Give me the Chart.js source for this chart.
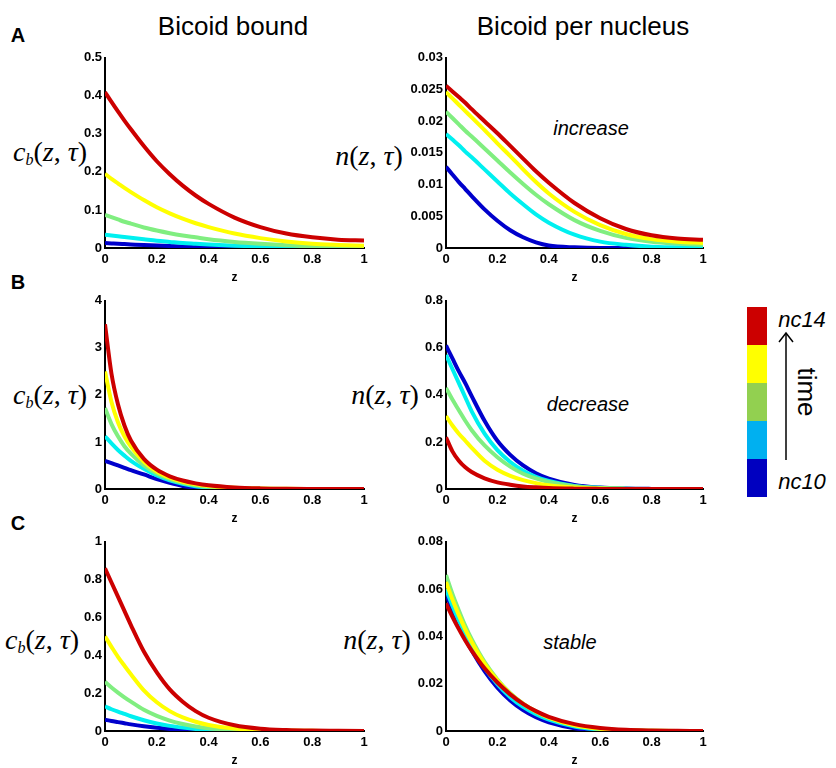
<!DOCTYPE html>
<html>
<head>
<meta charset="utf-8">
<script src="https://cdn.jsdelivr.net/npm/chart.js@4.4.1/dist/chart.umd.min.js"></script>
<style>
  html, body { margin: 0; padding: 0; background: #fff; }
  #fig { position: relative; width: 836px; height: 768px; overflow: hidden; font-family: "Liberation Sans", Arial, sans-serif; }
  #fig canvas { position: absolute; }
  .lbl { position: absolute; transform: translate(-50%, -50%); white-space: nowrap; color: #000; }
  .panel { font-weight: bold; font-size: 20px; }
  .title { font-size: 26px; }
  .math { font-family: "Liberation Serif", "DejaVu Serif", serif; font-size: 28px; }
  .math sub { font-size: 16px; vertical-align: -4px; }
  .note { font-style: italic; font-size: 20px; }
  .bar { position: absolute; left: 747px; width: 20px; height: 38px; }
</style>
</head>
<body>
<div id="fig">
  <div class="lbl panel" style="left:18px; top:35px">A</div>
  <div class="lbl panel" style="left:18px; top:282px">B</div>
  <div class="lbl panel" style="left:18px; top:523px">C</div>
  <div class="lbl title" style="left:233px; top:26px">Bicoid bound</div>
  <div class="lbl title" style="left:583px; top:26px">Bicoid per nucleus</div>

  <div class="lbl math" style="left:50px; top:152px"><i>c</i><sub><i>b</i></sub>(<i>z</i>, <i>τ</i>)</div>
  <div class="lbl math" style="left:50px; top:395px"><i>c</i><sub><i>b</i></sub>(<i>z</i>, <i>τ</i>)</div>
  <div class="lbl math" style="left:42px; top:640px"><i>c</i><sub><i>b</i></sub>(<i>z</i>, <i>τ</i>)</div>
  <div class="lbl math" style="left:369px; top:156px"><i>n</i>(<i>z</i>, <i>τ</i>)</div>
  <div class="lbl math" style="left:385px; top:395px"><i>n</i>(<i>z</i>, <i>τ</i>)</div>
  <div class="lbl math" style="left:377px; top:640px"><i>n</i>(<i>z</i>, <i>τ</i>)</div>

  <div class="lbl note" style="left:591px; top:128px">increase</div>
  <div class="lbl note" style="left:588px; top:404px">decrease</div>
  <div class="lbl note" style="left:570px; top:642px">stable</div>

  <!-- colour bar -->
  <div id="colorbar"></div>
  <div class="lbl note" style="left:802px; top:320px; font-size:22px">nc14</div>
  <div class="lbl note" style="left:802px; top:482px; font-size:22px">nc10</div>
  <svg style="position:absolute; left:776px; top:330px" width="20" height="132">
    <line x1="10" y1="4" x2="10" y2="130" stroke="#000" stroke-width="1.5"/>
    <polyline points="3,12 10,3 17,12" fill="none" stroke="#000" stroke-width="1.5"/>
  </svg>
  <div class="lbl" style="left:806px; top:392px; font-size:26px; transform:translate(-50%,-50%) rotate(90deg)">time</div>
</div>

<script>
const zValues = [0, 0.025, 0.05, 0.075, 0.1, 0.15, 0.2, 0.25, 0.3, 0.35, 0.4, 0.5, 0.6, 0.7, 0.8, 0.9, 1];

// stages, latest first (nc14 drawn on top)
const stages = ['nc14', 'nc13', 'nc12', 'nc11', 'nc10'];
const lineColors = ['#cc0000', '#ffff00', '#80ee80', '#00f0f0', '#0000cc'];
const barColors = ['#cc0000', '#ffff00', '#92d050', '#00b0f0', '#0000c0'];

const zTicks = [0, 0.2, 0.4, 0.6, 0.8, 1];

// A: increase
const boundA = [
    [0.41, 0.384, 0.359, 0.335, 0.312, 0.268, 0.228, 0.194, 0.164, 0.138, 0.116, 0.08, 0.055, 0.038, 0.028, 0.022, 0.02],
    [0.195, 0.182, 0.17, 0.158, 0.147, 0.126, 0.107, 0.091, 0.077, 0.065, 0.055, 0.038, 0.026, 0.017, 0.011, 0.008, 0.006],
    [0.087, 0.081, 0.075, 0.069, 0.064, 0.054, 0.046, 0.039, 0.033, 0.028, 0.023, 0.016, 0.011, 0.007, 0.004, 0.003, 0.002],
    [0.035, 0.033, 0.031, 0.029, 0.027, 0.023, 0.019, 0.016, 0.013, 0.011, 0.009, 0.006, 0.004, 0.0025, 0.0017, 0.0012, 0.001],
    [0.013, 0.012, 0.011, 0.0102, 0.0094, 0.0078, 0.0064, 0.0052, 0.0042, 0.0034, 0.0027, 0.0017, 0.001, 0.0006, 0.0004, 0.0002, 0.0001]
];
const nucleusA = [
    [0.0256, 0.0247, 0.0238, 0.0229, 0.0219, 0.02, 0.0181, 0.0161, 0.0141, 0.0121, 0.0103, 0.0071, 0.0047, 0.003, 0.002, 0.0015, 0.0013],
    [0.0246, 0.0236, 0.0226, 0.0216, 0.0206, 0.0186, 0.0165, 0.0145, 0.0124, 0.0104, 0.0086, 0.0057, 0.0036, 0.0022, 0.0014, 0.001, 0.0008],
    [0.0215, 0.0205, 0.0195, 0.0185, 0.0176, 0.0157, 0.0138, 0.0119, 0.0101, 0.0084, 0.0069, 0.0044, 0.0027, 0.0016, 0.001, 0.0007, 0.0005],
    [0.018, 0.0171, 0.0162, 0.0152, 0.0143, 0.0124, 0.0105, 0.0086, 0.0069, 0.0053, 0.004, 0.0021, 0.001, 0.0005, 0.0002, 0.0001, 0.0001],
    [0.0128, 0.0116, 0.0104, 0.0093, 0.0082, 0.0061, 0.0043, 0.0028, 0.0017, 0.0009, 0.0004, 0.0001, 0, 0, 0, 0, 0]
];

// B: decrease
const boundB = [
    [3.5, 2.45, 1.8, 1.35, 1.03, 0.64, 0.41, 0.27, 0.18, 0.12, 0.078, 0.033, 0.013, 0.005, 0.002, 0.001, 0],
    [2.5, 1.85, 1.42, 1.12, 0.9, 0.58, 0.37, 0.24, 0.155, 0.1, 0.063, 0.024, 0.008, 0.003, 0.001, 0, 0],
    [1.72, 1.38, 1.12, 0.91, 0.75, 0.5, 0.33, 0.21, 0.13, 0.08, 0.047, 0.015, 0.004, 0.001, 0, 0, 0],
    [1.12, 0.97, 0.83, 0.71, 0.6, 0.43, 0.29, 0.185, 0.11, 0.06, 0.03, 0.006, 0.001, 0, 0, 0, 0],
    [0.6, 0.55, 0.5, 0.45, 0.4, 0.31, 0.21, 0.13, 0.065, 0.025, 0.008, 0, 0, 0, 0, 0, 0]
];
const nucleusB = [
    [0.22, 0.16, 0.12, 0.092, 0.072, 0.045, 0.028, 0.018, 0.011, 0.007, 0.004, 0.0015, 0.0005, 0, 0, 0, 0],
    [0.31, 0.27, 0.235, 0.205, 0.175, 0.12, 0.082, 0.056, 0.038, 0.025, 0.016, 0.006, 0.002, 0.0005, 0, 0, 0],
    [0.43, 0.38, 0.335, 0.29, 0.25, 0.185, 0.135, 0.095, 0.065, 0.045, 0.03, 0.012, 0.004, 0.001, 0, 0, 0],
    [0.57, 0.51, 0.45, 0.39, 0.33, 0.235, 0.165, 0.115, 0.078, 0.052, 0.034, 0.013, 0.005, 0.0015, 0, 0, 0],
    [0.61, 0.555, 0.5, 0.45, 0.395, 0.29, 0.205, 0.145, 0.1, 0.067, 0.044, 0.017, 0.006, 0.002, 0.0005, 0, 0]
];

// C: stable
const boundC = [
    [0.86, 0.785, 0.71, 0.635, 0.56, 0.42, 0.31, 0.22, 0.155, 0.105, 0.07, 0.03, 0.012, 0.005, 0.002, 0.001, 0],
    [0.5, 0.445, 0.392, 0.345, 0.3, 0.215, 0.152, 0.105, 0.072, 0.049, 0.032, 0.013, 0.005, 0.002, 0.001, 0, 0],
    [0.26, 0.23, 0.203, 0.178, 0.155, 0.112, 0.08, 0.055, 0.037, 0.024, 0.015, 0.005, 0.0015, 0.0005, 0, 0, 0],
    [0.13, 0.115, 0.102, 0.09, 0.078, 0.057, 0.04, 0.027, 0.018, 0.011, 0.007, 0.002, 0.0005, 0, 0, 0, 0],
    [0.06, 0.053, 0.047, 0.041, 0.035, 0.025, 0.017, 0.011, 0.007, 0.004, 0.002, 0.0005, 0, 0, 0, 0, 0]
];
const nucleusC = [
    [0.054, 0.0483, 0.0431, 0.0383, 0.034, 0.0265, 0.0205, 0.0155, 0.0115, 0.0084, 0.006, 0.0029, 0.0013, 0.0005, 0.0002, 0.0001, 0],
    [0.063, 0.0556, 0.049, 0.043, 0.0376, 0.0285, 0.0214, 0.0158, 0.0115, 0.0082, 0.0056, 0.0024, 0.0009, 0.0003, 0.0001, 0, 0],
    [0.066, 0.058, 0.051, 0.0445, 0.0388, 0.0292, 0.0218, 0.016, 0.0116, 0.0082, 0.0056, 0.0024, 0.0009, 0.0003, 0.0001, 0, 0],
    [0.06, 0.053, 0.0466, 0.0408, 0.0356, 0.0268, 0.0198, 0.0143, 0.0102, 0.0071, 0.0048, 0.0019, 0.0006, 0.0002, 0, 0, 0],
    [0.058, 0.0511, 0.0448, 0.0391, 0.034, 0.0253, 0.0183, 0.0129, 0.0088, 0.0058, 0.0037, 0.0012, 0.0002, 0, 0, 0, 0]
];

// y-axis limits / steps per panel
const yMaxes = [0.5, 0.03, 4, 0.8, 1, 0.08];
const ySteps = [0.1, 0.005, 1, 0.2, 0.2, 0.02];

(function () {
    const fig = document.getElementById('fig');

    // colour bar (legend for time)
    const cb = document.getElementById('colorbar');
    barColors.forEach((c, i) => {
        const d = document.createElement('div');
        d.className = 'bar';
        d.style.top = (307 + i * 38) + 'px';
        d.style.background = c;
        cb.appendChild(d);
    });

    // plot areas in page pixels: left, top, right, bottom
    const panels = [
        { series: boundA,   box: [105, 57, 364, 248] },
        { series: nucleusA, box: [446, 57, 703, 248] },
        { series: boundB,   box: [105, 300, 364, 489] },
        { series: nucleusB, box: [446, 300, 703, 489] },
        { series: boundC,   box: [105, 541, 364, 731] },
        { series: nucleusC, box: [446, 541, 703, 731] }
    ];

    const Y_W = 50, X_H = 38, PAD_T = 10, PAD_R = 10;
    const tickFont = { family: 'Liberation Sans', size: 13, weight: 'bold' };
    // matlab-like labels: 0.030 -> 0.03, 1.0 -> 1
    const fmt = v => String(Number(Number(v).toFixed(4)));

    panels.forEach((p, idx) => {
        const [l, t, r, b] = p.box;
        const canvas = document.createElement('canvas');
        const w = (r - l) + Y_W + PAD_R;
        const h = (b - t) + PAD_T + X_H;
        canvas.width = w;
        canvas.height = h;
        canvas.style.left = (l - Y_W) + 'px';
        canvas.style.top = (t - PAD_T) + 'px';
        canvas.style.width = w + 'px';
        canvas.style.height = h + 'px';
        fig.appendChild(canvas);

        const datasets = p.series.map((vals, i) => ({
            label: stages[i],
            data: zValues.map((z, k) => ({ x: z, y: vals[k] })),
            borderColor: lineColors[i],
            borderWidth: 4,
            pointRadius: 0,
            fill: false,
            cubicInterpolationMode: 'monotone'
        }));

        new Chart(canvas.getContext('2d'), {
            type: 'line',
            data: { datasets: datasets },
            options: {
                responsive: false,
                animation: false,
                events: [],
                layout: { padding: { top: PAD_T, right: PAD_R, left: 0, bottom: 0 } },
                plugins: { legend: { display: false }, tooltip: { enabled: false } },
                scales: {
                    x: {
                        type: 'linear',
                        min: 0,
                        max: 1,
                        afterBuildTicks: s => { s.ticks = zTicks.map(v => ({ value: v })); },
                        afterFit: s => { s.height = X_H; },
                        grid: { drawOnChartArea: false, drawTicks: false },
                        border: { color: '#000', width: 2 },
                        ticks: { color: '#000', font: tickFont, padding: 4, maxRotation: 0, callback: fmt },
                        title: {
                            display: true,
                            text: 'z',
                            color: '#000',
                            font: { family: 'Liberation Sans', size: 12, weight: 'bold' },
                            padding: { top: 0, bottom: 1 }
                        }
                    },
                    y: {
                        min: 0,
                        max: yMaxes[idx],
                        afterFit: s => { s.width = Y_W; },
                        grid: { drawOnChartArea: false, drawTicks: false },
                        border: { color: '#000', width: 2 },
                        ticks: { color: '#000', font: tickFont, padding: 3, stepSize: ySteps[idx], callback: fmt }
                    }
                }
            }
        });
    });
})();
</script>
</body>
</html>
